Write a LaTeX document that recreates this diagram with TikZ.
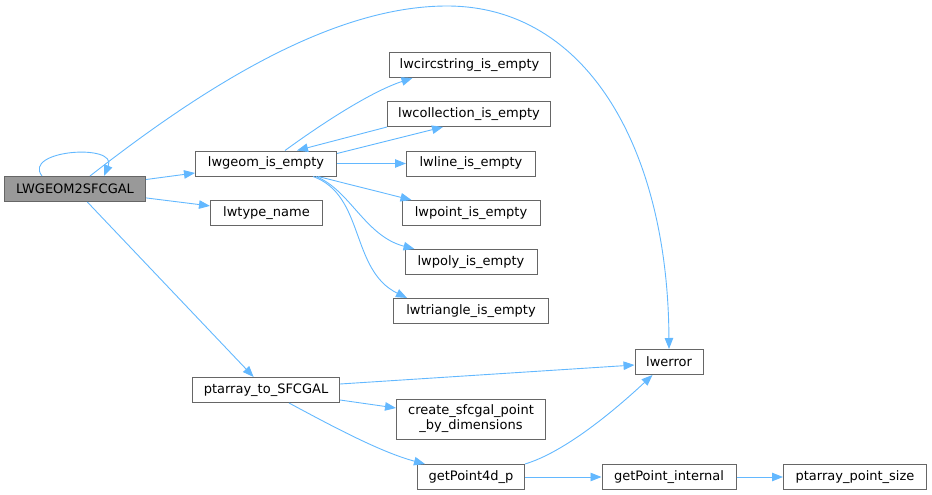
\documentclass[tikz,border=0pt]{standalone}
\usepackage{fontspec}
\setmainfont{DejaVu Sans}
\usetikzlibrary{arrows.meta,calc}
\definecolor{edgec}{HTML}{63B8FF}
\definecolor{boxc}{HTML}{666666}
\definecolor{mainfill}{HTML}{999999}
\tikzset{
  fn/.style={draw=boxc, line width=1pt, fill=white, inner sep=0pt, font=\fontsize{13}{15}\selectfont, align=center},
  mainfn/.style={fn, fill=mainfill},
  call/.style={draw=edgec, line width=0.9pt, -{Triangle[length=11pt,width=8.5pt]}}
}
\begin{document}
\begin{tikzpicture}[x=1pt,y=-1pt]
\useasboundingbox (0,0) rectangle (932,495);
\node[mainfn, minimum width=141pt, minimum height=25pt] (main) at (75,189) {LWGEOM2SFCGAL};
\node[fn, minimum width=141pt, minimum height=25pt] (lge) at (266,163.5) {lwgeom\_is\_empty};
\node[fn, minimum width=112pt, minimum height=25pt] (ltn) at (266.5,213) {lwtype\_name};
\node[fn, minimum width=161pt, minimum height=25pt] (lcs) at (469.5,65) {lwcircstring\_is\_empty};
\node[fn, minimum width=163pt, minimum height=25pt] (lco) at (469,114) {lwcollection\_is\_empty};
\node[fn, minimum width=129pt, minimum height=25pt] (lli) at (471,163.5) {lwline\_is\_empty};
\node[fn, minimum width=138pt, minimum height=25pt] (lpt) at (471,213) {lwpoint\_is\_empty};
\node[fn, minimum width=132pt, minimum height=25pt] (lpo) at (471,262) {lwpoly\_is\_empty};
\node[fn, minimum width=155pt, minimum height=25pt] (ltr) at (471,311) {lwtriangle\_is\_empty};
\node[fn, minimum width=147pt, minimum height=25pt] (pts) at (266,390) {ptarray\_to\_SFCGAL};
\node[fn, minimum width=149pt, minimum height=40pt] (csp) at (471,419) {create\_sfcgal\_point\\\_by\_dimensions};
\node[fn, minimum width=107pt, minimum height=25pt] (gp4) at (471,477) {getPoint4d\_p};
\node[fn, minimum width=68pt, minimum height=25pt] (lwe) at (669,362) {lwerror};
\node[fn, minimum width=134pt, minimum height=25pt] (gpi) at (669,477) {getPoint\_internal};
\node[fn, minimum width=143pt, minimum height=25pt] (pps) at (855,477) {ptarray\_point\_size};

% self loop
\draw[call] ([xshift=38pt]main.north west) .. controls (22,150) and (118,143) .. ([xshift=100pt]main.north west);
% main -> lwerror
\coordinate (apex) at (447,6);
\draw[call] ([xshift=86pt]main.north west) .. controls (200,90) and (330,6) .. (apex)
  .. controls (587,6) and (668,149) .. (lwe.north);
\draw[call] (main) -- (lge);
\draw[call] (main) -- (ltn);
\draw[call] (main) -- (pts);
% lwgeom_is_empty calls
\draw[call] ([xshift=90pt]lge.north west) .. controls (320,125) and (370,92) .. ([xshift=24pt]lcs.south west);
\draw[call] ([yshift=-3pt]lge.north east) -- ([xshift=56pt]lco.south west);
\draw[call] (lco.south west) -- ([xshift=102pt]lge.north west);
\draw[call] (lge) -- (lli);
\draw[call] ([xshift=123pt]lge.south west) -- ([xshift=10pt]lpt.north west);
\draw[call] ([xshift=121pt]lge.south west) .. controls (350,190) and (365,236) .. ([xshift=10pt]lpo.north west);
\draw[call] ([xshift=118pt]lge.south west) .. controls (365,195) and (350,270) .. ([xshift=14pt]ltr.north west);
% ptarray_to_SFCGAL calls
\draw[call] ([yshift=6pt]pts.east) -- ([yshift=-3pt]lwe.west);
\draw[call] ([yshift=-10pt]pts.east) -- ([yshift=11pt]csp.west);
\draw[call] ([xshift=97pt]pts.south west) .. controls (330,425) and (380,452) .. ([xshift=8pt]gp4.north west);
% getPoint4d_p calls
\draw[call] (gp4.north east) .. controls (565,452) and (615,410) .. ([xshift=18pt]lwe.south west);
\draw[call] (gp4) -- (gpi);
\draw[call] (gpi) -- (pps);
\end{tikzpicture}
\end{document}
